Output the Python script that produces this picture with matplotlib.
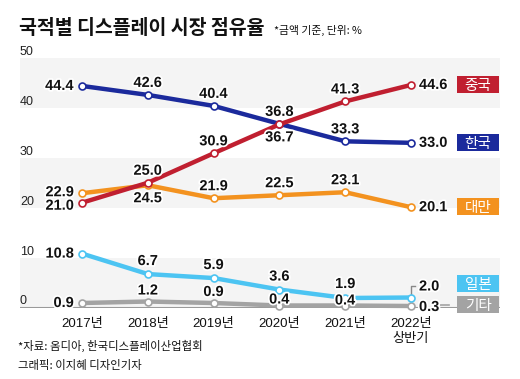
import matplotlib
matplotlib.use("Agg")
import matplotlib.pyplot as plt
import matplotlib.patheffects as pe
from matplotlib.patches import Rectangle

# ---- data ----
years = ["2017년", "2018년", "2019년", "2020년", "2021년", "2022년\n상반기"]
series_names = ["중국", "한국", "대만", "일본", "기타"]
china = [21.0, 25.0, 30.9, 36.7, 41.3, 44.6]
korea = [44.4, 42.6, 40.4, 36.8, 33.3, 33.0]
taiwan = [22.9, 24.5, 21.9, 22.5, 23.1, 20.1]
japan = [10.8, 6.7, 5.9, 3.6, 1.9, 2.0]
other = [0.9, 1.2, 0.9, 0.4, 0.4, 0.3]
yticks = [0, 10, 20, 30, 40, 50]

title = "국적별 디스플레이 시장 점유율"
subtitle = "*금액 기준, 단위: %"
source = "*자료: 옴디아, 한국디스플레이산업협회"
credit = "그래픽: 이지혜 디자인기자"

# ---- style ----
colors = {"중국": "#c01f30", "한국": "#1b2a9c", "대만": "#f3921f",
          "일본": "#4cc4f2", "기타": "#a3a3a3"}
KR = "Noto Sans CJK KR"
NUM = ["Liberation Sans", KR]

W, H = 520, 379
fig = plt.figure(figsize=(W / 100, H / 100), dpi=100)
fig.patch.set_facecolor("white")

# axes in pixel layout
x_left, x_right = 20, 500
y_top, y_bot = 58, 307.5
ax = fig.add_axes([x_left / W, (H - y_bot) / H, (x_right - x_left) / W, (y_bot - y_top) / H])
px_per_idx = 65.8
x0px = 82
ax.set_xlim((x_left - x0px) / px_per_idx, (x_right - x0px) / px_per_idx)
ax.set_ylim(0, 50)
ax.axis("off")

# background bands
for lo, hi, c in [(40, 50, "#f4f4f4"), (20, 30, "#f4f4f4"), (0, 10, "#f4f4f4")]:
    ax.axhspan(lo, hi, color=c, lw=0, zorder=0)
ax.axhline(0, color="#9a9a9a", lw=1.5, zorder=1)

# y tick labels (above-left of gridlines)
for v in yticks:
    ax.annotate(str(v), xy=(0, v), xycoords=("axes fraction", "data"),
                xytext=(0, 0), textcoords="offset pixels", ha="left", va="bottom",
                fontsize=9, family=NUM, color="#222222")

xs = list(range(len(years)))
for i, lab in enumerate(years):
    ax.text(i, -2.2, lab, ha="center", va="top", fontsize=9.5, family=NUM,
            color="#111111", linespacing=1.3)

data = {"중국": china, "한국": korea, "대만": taiwan, "일본": japan, "기타": other}
# label placement: 'L' left, 'A' above, 'B' below, 'R' right ; offset px
place = {
    "중국": [("L", -3), ("A", 5), ("A", 5), ("B", 6), ("A", 5), ("R", 0)],
    "한국": [("L", 0), ("A", 5), ("A", 5), ("A", 5), ("A", 5), ("R", 0)],
    "대만": [("L", 1), ("B", 6), ("A", 5), ("A", 5), ("A", 5), ("R", 0)],
    "일본": [("L", 0), ("A", 6), ("A", 6), ("A", 6), ("A", 7), ("R", 11)],
    "기타": [("L", 0), ("A", 4), ("A", 4), ("A", -1), ("A", -2), ("R", -1)],
}
order = ["기타", "일본", "대만", "한국", "중국"]
for z, name in enumerate(order):
    vals = data[name]
    ax.plot(xs, vals, color=colors[name], lw=3.2, solid_capstyle="round",
            marker="o", ms=5, mfc="white", mec=colors[name], mew=1.2,
            zorder=3 + z, clip_on=False)

halo = [pe.withStroke(linewidth=2.5, foreground="white")]
for name in order:
    vals = data[name]
    for i, v in enumerate(vals):
        kind, d = place[name][i]
        if kind == "L":
            off, ha, va = (-8, d), "right", "center"
        elif kind == "R":
            off, ha, va = (8, d), "left", "center"
        elif kind == "A":
            off, ha, va = (0, d), "center", "bottom"
        else:
            off, ha, va = (0, -d), "center", "top"
        ax.annotate(f"{v:.1f}", xy=(i, v), xytext=off, textcoords="offset pixels",
                    ha=ha, va=va, fontsize=10.5, fontweight="bold",
                    family="Liberation Sans", color="#111111",
                    path_effects=halo, zorder=20)

# bracket for 2.0 label and connector for 기타
last = len(xs) - 1
ax.plot([last, last, last + 0.06], [japan[-1] + 0.6, 4.4, 4.4], color="#888888", lw=1, zorder=2, clip_on=False)
ax.plot([last + 0.44, last + 0.57], [other[-1] + 0.3, other[-1] + 0.3], color="#a3a3a3", lw=1.2, clip_on=False)

# legend boxes on right
box_y = {"중국": 44.6, "한국": 33.0, "대만": 20.2, "일본": 4.8, "기타": 0.6}
bx0 = (457 - x0px) / px_per_idx
bw = 42 / px_per_idx
bh = 17 / 4.99
for name in series_names:
    cy = box_y[name]
    ax.add_patch(Rectangle((bx0, cy - bh / 2), bw, bh, facecolor=colors[name],
                           edgecolor="none", clip_on=False, zorder=10))
    ax.text(bx0 + bw / 2, cy - 0.2, name, ha="center", va="center", color="white",
            fontsize=10.5, family=KR, zorder=11)

# title etc
fig.text(19 / W, 1 - 28 / H, title, ha="left", va="center", fontsize=14,
         fontweight="bold", family=KR, color="#111111")
fig.text(274 / W, 1 - 30 / H, subtitle, ha="left", va="center", fontsize=7.8,
         family=KR, color="#111111")
fig.text(18 / W, 1 - 346 / H, source, ha="left", va="center", fontsize=8.2,
         family=KR, color="#111111")
fig.text(18 / W, 1 - 365 / H, credit, ha="left", va="center", fontsize=8.2,
         family=KR, color="#111111")

fig.savefig("out.png", dpi=100, facecolor="white")
